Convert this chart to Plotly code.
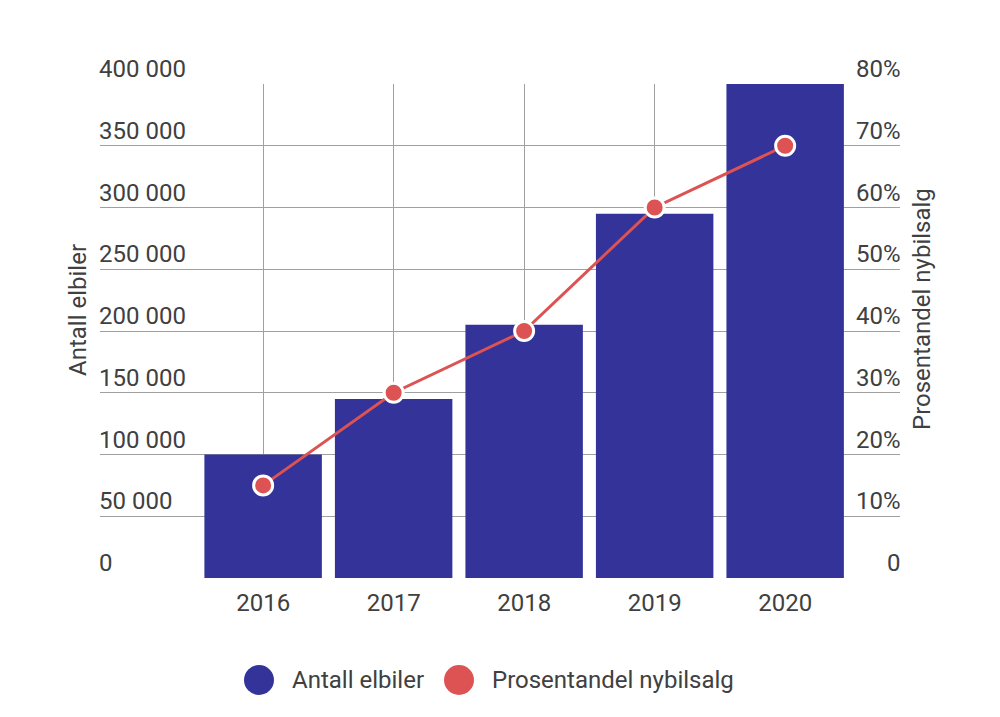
import plotly.graph_objects as go
from plotly.subplots import make_subplots

years = ["2016", "2017", "2018", "2019", "2020"]
antall_elbiler = [100000, 145000, 205000, 295000, 400000]
prosentandel = [15, 30, 40, 60, 70]

left_tickvals = [0, 50000, 100000, 150000, 200000, 250000, 300000, 350000, 400000]
left_ticktext = ["0", "50 000", "100 000", "150 000", "200 000", "250 000", "300 000", "350 000", "400 000"]
right_tickvals = [0, 10, 20, 30, 40, 50, 60, 70, 80]
right_ticktext = ["0", "10%", "20%", "30%", "40%", "50%", "60%", "70%", "80%"]

BLUE = "#333399"
RED = "#dd5252"
TEXT = "#404040"
GRID = "#a0a0a0"
FONT = "Roboto"
FS = 24


# page has an 8px body margin, so plot area 100..900 x 84..578 in window pixels
def px_x(px):
    return (px - 100) / 800


def px_y(py):
    return (578 - py) / 494


def txt():
    return dict(family=FONT, size=FS, color=TEXT)


fig = make_subplots(specs=[[{"secondary_y": True}]])

fig.add_trace(
    go.Bar(x=years, y=antall_elbiler, name="Antall elbiler",
           marker=dict(color=BLUE, line=dict(width=0)), showlegend=False),
    secondary_y=False,
)
fig.add_trace(
    go.Scatter(x=years, y=prosentandel, name="Prosentandel nybilsalg",
               mode="lines+markers",
               line=dict(color=RED, width=3),
               marker=dict(color=RED, size=19, line=dict(color="white", width=3)),
               showlegend=False),
    secondary_y=True,
)

fig.update_xaxes(
    type="category", range=[-1.25, 4.88], domain=[0, 1], automargin=False,
    showgrid=True, gridcolor=GRID, gridwidth=1,
    showline=False, zeroline=False,
    ticks="outside", ticklen=3, tickcolor="rgba(0,0,0,0)",
    tickfont=txt(),
)
fig.update_yaxes(
    range=[0, 400000], tickvals=left_tickvals, showticklabels=False,
    showgrid=True, gridcolor=GRID, gridwidth=1,
    zeroline=False, showline=False, automargin=False,
    secondary_y=False,
)
fig.update_yaxes(
    range=[0, 80], tickvals=right_tickvals, showticklabels=False,
    showgrid=False, zeroline=False, showline=False, automargin=False,
    secondary_y=True,
)

annotations = []
# y tick labels sit just above their gridlines
for v, t in zip(left_tickvals, left_ticktext):
    annotations.append(dict(text=t, x=0, y=v, xref="paper", yref="y",
                            showarrow=False, xanchor="left", yanchor="bottom",
                            xshift=-3, yshift=-1, font=txt()))
for v, t in zip(right_tickvals, right_ticktext):
    annotations.append(dict(text=t, x=1, y=v, xref="paper", yref="y2",
                            showarrow=False, xanchor="right", yanchor="bottom",
                            xshift=3, yshift=-1, font=txt()))

annotations += [
    dict(text="Antall elbiler", x=px_x(78), y=px_y(310), xref="paper", yref="paper",
         textangle=-90, showarrow=False, xanchor="center", yanchor="middle",
         font=txt()),
    dict(text="Prosentandel nybilsalg", x=px_x(922), y=px_y(309), xref="paper", yref="paper",
         textangle=-90, showarrow=False, xanchor="center", yanchor="middle",
         font=txt()),
    dict(text="Antall elbiler", x=px_x(290), y=px_y(680), xref="paper", yref="paper",
         showarrow=False, xanchor="left", yanchor="middle", font=txt()),
    dict(text="Prosentandel nybilsalg", x=px_x(490), y=px_y(680), xref="paper", yref="paper",
         showarrow=False, xanchor="left", yanchor="middle", font=txt()),
]

shapes = []
for cx, col in [(259, BLUE), (459, RED)]:
    shapes.append(dict(type="circle", xref="paper", yref="paper",
                       xsizemode="pixel", ysizemode="pixel",
                       xanchor=px_x(cx), yanchor=px_y(680),
                       x0=-15, x1=15, y0=-15, y1=15,
                       fillcolor=col, line=dict(width=0)))

fig.update_layout(
    width=992, height=709,
    margin=dict(l=92, r=100, t=76, b=139),
    plot_bgcolor="white", paper_bgcolor="white",
    bargap=0.1,
    showlegend=False,
    annotations=annotations,
    shapes=shapes,
    font=dict(family=FONT, color=TEXT),
)

fig.write_html("out.html")
